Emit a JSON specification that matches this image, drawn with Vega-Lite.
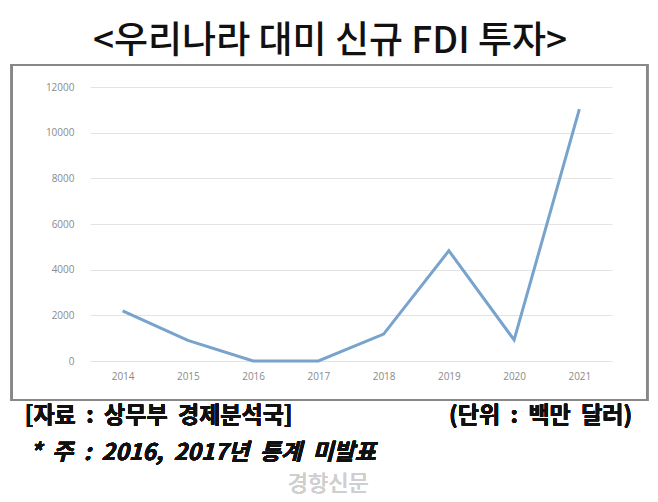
{
  "$schema": "https://vega.github.io/schema/vega-lite/v6.json",
  "width": 522,
  "height": 274,
  "autosize": "none",
  "padding": {"left": 90, "top": 87, "right": 46, "bottom": 141},
  "background": "white",
  "config": {"view": {"stroke": null}, "font": "Noto Sans CJK KR"},
  "title": {
    "text": "<우리나라 대미 신규 FDI 투자>",
    "font": "Noto Sans CJK KR",
    "fontSize": 37,
    "fontWeight": 500,
    "color": "#111",
    "anchor": "middle",
    "dx": -21,
    "offset": 3
  },
  "data": {
    "values": [
      {"year": 2014, "fdi": 2200},
      {"year": 2015, "fdi": 900},
      {"year": 2016, "fdi": 0},
      {"year": 2017, "fdi": 0},
      {"year": 2018, "fdi": 1180},
      {"year": 2019, "fdi": 4830},
      {"year": 2020, "fdi": 920},
      {"year": 2021, "fdi": 11030}
    ]
  },
  "layer": [
    {
      "mark": {"type": "rect", "fill": null, "stroke": "#888", "strokeWidth": 2, "clip": false},
      "encoding": {
        "x": {"datum": 2012.3},
        "x2": {"datum": 2022.04},
        "y": {"datum": 12963},
        "y2": {"datum": -1708}
      }
    },
    {
      "mark": {"type": "line", "color": "#77a3cc", "strokeWidth": 3, "clip": false},
      "encoding": {
        "x": {
          "field": "year",
          "type": "quantitative",
          "scale": {"domain": [2013.5, 2021.5], "nice": false, "zero": false},
          "axis": {
            "values": [2014, 2015, 2016, 2017, 2018, 2019, 2020, 2021],
            "format": "d",
            "title": null,
            "domain": false,
            "ticks": false,
            "grid": false,
            "labelPadding": 10,
            "labelFontSize": 10,
            "labelColor": "#8a8a8a",
            "labelFont": "Open Sans"
          }
        },
        "y": {
          "field": "fdi",
          "type": "quantitative",
          "scale": {"domain": [0, 12000], "nice": false},
          "axis": {
            "values": [0, 2000, 4000, 6000, 8000, 10000, 12000],
            "format": "d",
            "title": null,
            "domain": false,
            "ticks": false,
            "grid": true,
            "gridColor": "#e3e3e3",
            "gridWidth": 1,
            "labelPadding": 16,
            "labelFontSize": 10,
            "labelColor": "#8a8a8a",
            "labelFont": "Open Sans"
          }
        }
      }
    },
    {
      "mark": {"type": "text", "align": "left", "baseline": "middle", "fontSize": 23, "fontWeight": "bold", "color": "#111", "clip": false},
      "encoding": {"x": {"datum": 2012.5}, "y": {"datum": -2409}, "text": {"value": "[자료\u00a0 :\u00a0 상무부\u00a0 경제분석국]"}}
    },
    {
      "mark": {"type": "text", "align": "right", "baseline": "middle", "fontSize": 23, "fontWeight": "bold", "color": "#111", "clip": false},
      "encoding": {"x": {"datum": 2021.81}, "y": {"datum": -2409}, "text": {"value": "(단위\u00a0 :\u00a0 백만\u00a0 달러)"}}
    },
    {
      "mark": {"type": "text", "align": "left", "baseline": "middle", "fontSize": 23, "fontWeight": "bold", "fontStyle": "italic", "color": "#111", "clip": false},
      "encoding": {"x": {"datum": 2012.58}, "y": {"datum": -4030}, "text": {"value": "*\u00a0 주\u00a0 :\u00a0 2016,\u00a0 2017년\u00a0 통계\u00a0 미발표"}}
    },
    {
      "mark": {"type": "text", "align": "center", "baseline": "middle", "fontSize": 22, "color": "#cfcfcf", "opacity": 0.6, "clip": false},
      "encoding": {"x": {"datum": 2017.15}, "y": {"datum": -5390}, "text": {"value": "경향신문"}}
    }
  ]
}
